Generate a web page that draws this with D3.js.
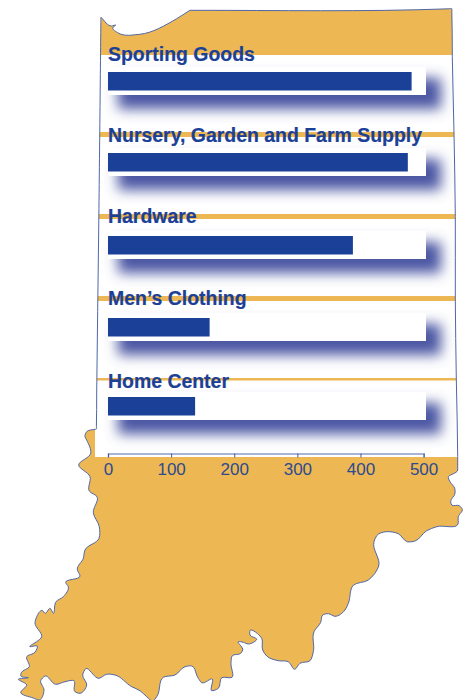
<!DOCTYPE html>
<html>
<head>
<meta charset="utf-8">
<script src="https://cdn.jsdelivr.net/npm/d3@7"></script>
<style>
    html, body { margin: 0; padding: 0; background: #fff; }
    svg { display: block; }
    .label { font-family: "Liberation Sans", sans-serif; font-weight: bold; font-size: 19.45px; fill: #1c4096; stroke: #1c4096; stroke-width: 0.2; }
    .axis text { font-family: "Liberation Sans", sans-serif; font-size: 17px; fill: #2c4a90; }
    .axis path { stroke: #8c9cc8; stroke-width: 1.5; }
    .axis line { stroke: #3f5a9e; }
</style>
</head>
<body>
<div id="chart"></div>
<script>
var categories = ["Sporting Goods", "Nursery, Garden and Farm Supply", "Hardware", "Men\u2019s Clothing", "Home Center"];
var values = [481, 475, 388, 161, 138];
var ticks = [0, 100, 200, 300, 400, 500];

// layout of the rows, they are not quite evenly spaced in the original
var rowTops = [67, 148, 231, 313, 392];
var labelBaselines = [60.7, 141.7, 222.7, 304.7, 387.7];
var stripeTops = [132, 214, 296, 378];
var stripeHeights = [5, 5, 5, 2.5];

// Indiana, traced clockwise from the notch at the top left
var stateOutline = [
    [101,17.3],[101.3,17.6],[111.7,26],[115.7,25],[112.7,28],[118.3,33],[139.7,34.3],[176.7,18.7],[189,10.9],[190,10.3],[192,10.3],[449,8.8],[451.7,8.7],[451.8,11],
    [452.3,56.7],[454,133],[455.3,216.7],[455.3,298],[456.3,379],[457.7,456.7],[457.7,468],[457.7,470],
    [448.3,477.7],[450,481.7],[454.7,488.3],[455,493.3],[450.7,501.7],[451.7,505],[459.3,505.7],[462.3,509.3],
    [458.3,516.7],[458,524],[436.7,526.7],[426.7,530.7],[415,541],[407.3,541.7],[398.3,533.7],[376.7,535.7],
    [374,541.7],[378.7,566],[368.3,580],[353.3,585.3],[348.3,603.3],[345,610],[335,616.3],[328.3,613.7],
    [322.7,615],[320.7,622.3],[314,631.7],[313.3,651.7],[310,660.7],[300,663.3],[294.7,669.3],[288.3,661.7],
    [278.3,660.7],[266.7,656],[262.7,650],[261.7,638.3],[250,630.7],[250,635],[256.7,639],[248.3,644],
    [243.3,642.3],[238.3,641.7],[242.7,650],[240.7,653.3],[232.3,655.7],[231,663.3],[232,677.3],[221.7,677.7],
    [218.3,688.3],[211.7,690.7],[212.3,679],[201.7,682.7],[198.3,678.3],[191.7,666],[185,666.7],[175,675],
    [163.3,677.3],[156.7,696.7],[152.7,701],[146.7,696.7],[140,690.7],[131.7,686.7],[115,675],[106.7,674.3],
    [99,678.3],[85.7,668.7],[82.7,675],[86.7,685],[80,693.3],[75,691.7],[74,680.7],[65,681.7],[55.7,684.3],
    [45,676],[40.7,680.7],[44,690],[39.3,700],[33.3,698],[20.7,692.3],[26.7,685],[18.3,679.3],[28.3,677.7],
    [20.7,675.7],[21.3,672.7],[29.3,666.7],[26.7,656.7],[35,652.3],[37.3,646],[30,646.7],[41.7,636.7],
    [35,622.7],[42.7,610.7],[45,613.3],[50,608.3],[53.3,613.3],[56,601.7],[63.3,596.7],[68.3,586.7],[65.7,582.7],
    [80,576],[77.3,569.3],[83.3,558.3],[85,550],[99,538.3],[99.3,526.7],[93.3,512.7],[97,496.7],[89.3,491],
    [90,476.7],[78.7,465],[90.7,453.3],[86.7,440],[85,436.7],[86.7,431.7],[95,429.3],[96.3,429],[96.4,426],[96.7,393],[98.7,230],[100.9,19]
];

var width = 468, height = 700;
var panelWidth = 318, panelHeight = 28;
var orange = "#edb854", blue = "#1b4097";

var x = d3.scaleLinear().domain([0, 500]).range([108, 423.6]);
var rowTop = d3.scaleOrdinal().domain(categories).range(rowTops);
var labelY = d3.scaleOrdinal().domain(categories).range(labelBaselines);

var svg = d3.select("#chart").append("svg")
    .attr("width", width)
    .attr("height", height);

var defs = svg.append("defs");
defs.append("filter")
    .attr("id", "soft")
    .attr("x", "-10%").attr("y", "-100%")
    .attr("width", "120%").attr("height", "300%")
    .append("feGaussianBlur")
    .attr("stdDeviation", 6.5);

var outline = d3.line().curve(d3.curveCatmullRom.alpha(1))(stateOutline) + "Z";

defs.append("clipPath")
    .attr("id", "state-clip")
    .append("path")
    .attr("d", outline);

svg.append("path")
    .attr("d", outline)
    .attr("fill", orange);

// big white area the chart sits on
svg.append("rect")
    .attr("x", 95)
    .attr("y", 55)
    .attr("width", 373)
    .attr("height", 402)
    .attr("fill", "#fff");

svg.append("g")
    .attr("clip-path", "url(#state-clip)")
    .selectAll("rect")
    .data(stripeTops)
    .enter()
    .append("rect")
    .attr("x", 90)
    .attr("y", function (d) { return d; })
    .attr("width", 378)
    .attr("height", function (d, i) { return stripeHeights[i]; })
    .attr("fill", orange);

svg.append("path")
    .attr("d", outline)
    .attr("fill", "none")
    .attr("stroke", "#4f67a8")
    .attr("stroke-width", 1);

var rows = svg.selectAll("g.row")
    .data(categories)
    .enter()
    .append("g")
    .attr("class", "row");

rows.append("rect")
    .attr("x", x(0) + 10)
    .attr("y", function (d) { return rowTop(d) + 11; })
    .attr("width", panelWidth + 5)
    .attr("height", panelHeight + 3)
    .attr("fill", "#4c56a3")
    .attr("filter", "url(#soft)");

rows.append("rect")
    .attr("x", x(0))
    .attr("y", function (d) { return rowTop(d); })
    .attr("width", panelWidth)
    .attr("height", panelHeight)
    .attr("fill", "#fff");

rows.append("rect")
    .attr("x", x(0))
    .attr("y", function (d) { return rowTop(d) + 5; })
    .attr("width", function (d, i) { return x(values[i]) - x(0); })
    .attr("height", 18.5)
    .attr("fill", blue);

rows.append("text")
    .attr("class", "label")
    .attr("x", x(0))
    .attr("y", function (d) { return labelY(d); })
    .text(function (d) { return d; });

svg.append("g")
    .attr("class", "axis")
    .attr("transform", "translate(0,453.5)")
    .call(d3.axisBottom(x).tickValues(ticks).tickSize(4).tickSizeOuter(4).tickPadding(5));
</script>
</body>
</html>
